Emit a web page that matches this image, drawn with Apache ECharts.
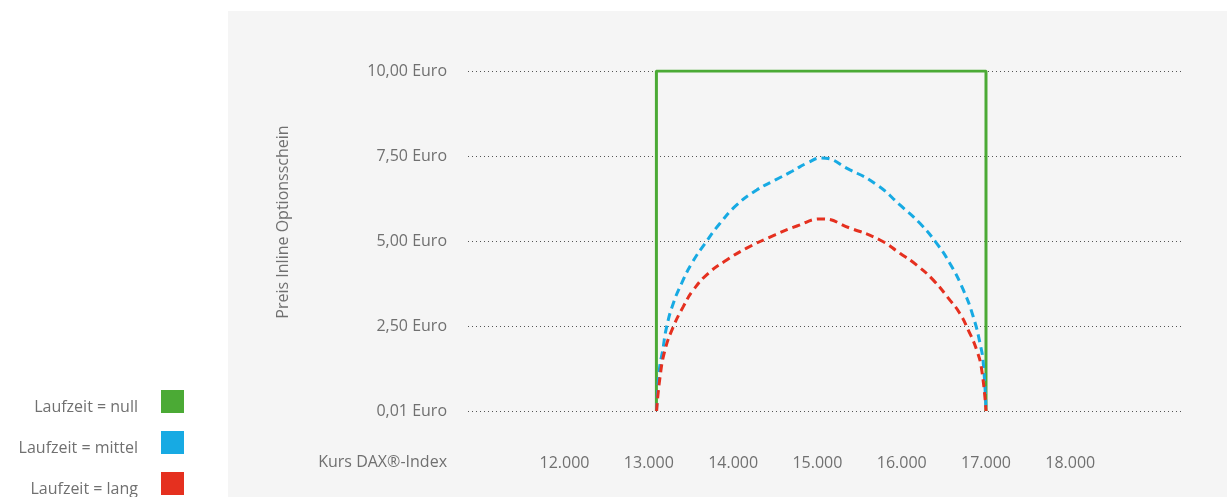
<!DOCTYPE html>
<html>
<head>
<meta charset="utf-8">
<script src="https://cdn.jsdelivr.net/npm/echarts@6/dist/echarts.min.js"></script>
<style>
html,body{margin:0;padding:0;background:#fff;}
#c{width:1227px;height:497px;}
</style>
</head>
<body>
<div id="c"></div>
<script>
const seriesNames = ['Laufzeit = null', 'Laufzeit = mittel', 'Laufzeit = lang'];
const xTicks = [12000, 13000, 14000, 15000, 16000, 17000, 18000];
const yTicks = [0, 2.5, 5, 7.5, 10];
const nullData = [[13090, 0], [13090, 10], [17000, 10], [17000, 0]];
const mittelData = [[13092, 0], [13125, 1.21], [13165, 1.79], [13212, 2.48], [13291, 3.17], [13390, 3.76], [13509, 4.34], [13667, 4.93], [13845, 5.52], [14043, 6.06], [14280, 6.5], [14497, 6.79], [14700, 7.05], [14876, 7.29], [15050, 7.44], [15387, 7.09], [15707, 6.65], [15979, 6.06], [16216, 5.52], [16415, 4.93], [16572, 4.34], [16731, 3.56], [16849, 2.77], [16929, 1.99], [16968, 1.4], [17000, 0]];
const langData = [[13092, 0], [13133, 1.0], [13192, 1.79], [13291, 2.48], [13409, 3.07], [13528, 3.56], [13706, 4.05], [13924, 4.44], [14161, 4.79], [14497, 5.18], [14757, 5.44], [15050, 5.65], [15387, 5.38], [15742, 5.03], [15979, 4.64], [16178, 4.29], [16375, 3.85], [16572, 3.26], [16690, 2.87], [16790, 2.38], [16890, 1.79], [16949, 1.21], [17000, 0]];

const FONT = '"Open Sans", sans-serif';
const TXT = '#707070';
const legendTops = [390, 431, 472];
const chart = echarts.init(document.getElementById('c'));
chart.setOption({
  animation: false,
  textStyle: {fontFamily: FONT},
  graphic: [
    {type: 'rect', z: -10, shape: {x: 228, y: 11, width: 1000, height: 490}, style: {fill: '#f5f5f5'}},
    {type: 'text', x: 283, y: 222, rotation: Math.PI / 2, style: {text: 'Preis Inline Optionsschein', fill: TXT, font: '16px ' + FONT, align: 'center', verticalAlign: 'middle'}},
    {type: 'text', x: 447, y: 462, style: {text: 'Kurs DAX®-Index', fill: TXT, font: '16px ' + FONT, align: 'right', verticalAlign: 'middle'}}
  ],
  legend: seriesNames.map((n, i) => ({
    orient: 'vertical', align: 'right', right: 1043, top: legendTops[i], padding: 0,
    icon: 'rect', itemWidth: 23, itemHeight: 23,
    formatter: '{a|{name}}',
    textStyle: {color: TXT, fontSize: 16, fontFamily: FONT, padding: [0, 18, 0, 0],
      rich: {a: {color: TXT, fontSize: 16, fontFamily: FONT, padding: [12, 0, 0, 0]}}},
    data: [n]
  })),
  grid: {left: 468, right: 44, top: 71, bottom: 86},
  xAxis: {
    type: 'value', min: 10855, max: 19337,
    axisLine: {show: false}, axisTick: {show: false}, splitLine: {show: false},
    axisLabel: {
      customValues: xTicks, margin: 44, color: TXT, fontSize: 16, fontFamily: FONT,
      formatter: v => (v / 1000).toFixed(0) + '.000'
    }
  },
  yAxis: {
    type: 'value', min: 0, max: 10, interval: 2.5,
    axisLine: {show: false}, axisTick: {show: false},
    splitLine: {show: true, lineStyle: {color: '#555', width: 1, type: [1, 3]}},
    axisLabel: {
      margin: 21, color: TXT, fontSize: 16, fontFamily: FONT,
      formatter: v => (v === yTicks[0] ? '0,01' : v.toFixed(2).replace('.', ',')) + ' Euro'
    }
  },
  series: [
    {name: seriesNames[0], type: 'line', data: nullData, symbol: 'none', color: '#4BAA35', lineStyle: {width: 3, color: '#4BAA35'}},
    {name: seriesNames[1], type: 'line', data: mittelData, symbol: 'none', smooth: 0.5, color: '#17AAE3', lineStyle: {width: 3, color: '#17AAE3', type: [8, 5]}},
    {name: seriesNames[2], type: 'line', data: langData, symbol: 'none', smooth: 0.5, color: '#E5301F', lineStyle: {width: 3, color: '#E5301F', type: [8, 5]}}
  ]
});
</script>
</body>
</html>
